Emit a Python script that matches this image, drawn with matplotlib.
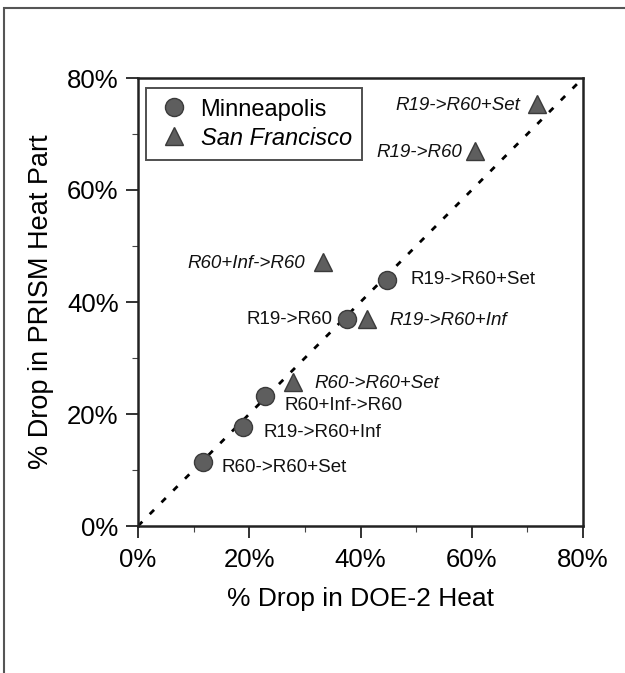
import matplotlib
matplotlib.use("Agg")
import matplotlib.pyplot as plt
from matplotlib.patches import Rectangle
from matplotlib.ticker import MultipleLocator, FuncFormatter

plt.rcParams['font.family'] = ['Liberation Sans', 'DejaVu Sans']

# Data (% drop)
mpls_labels = ["R60->R60+Set", "R19->R60+Inf", "R60+Inf->R60", "R19->R60", "R19->R60+Set"]
mpls_doe2 = [11.7, 18.9, 22.8, 37.6, 44.8]
mpls_prism = [11.4, 17.6, 23.3, 36.9, 44.0]

sf_labels = ["R60->R60+Set", "R19->R60+Inf", "R60+Inf->R60", "R19->R60", "R19->R60+Set"]
sf_doe2 = [27.9, 41.2, 33.3, 60.6, 71.7]
sf_prism = [25.7, 36.9, 47.2, 67.0, 75.4]

diag = [0, 80]

# label placement (offsets in points, alignment)
mpls_off = [(13, -3.6, 'left'), (14.4, -3.6, 'left'), (14.4, -7.2, 'left'), (-10.8, 0, 'right'), (16.5, 0, 'left')]
sf_off = [(15, -1, 'left'), (16, -1, 'left'), (-13, -1, 'right'), (-9.4, -1.5, 'right'), (-12, -1.5, 'right')]

fig = plt.figure(figsize=(6.25, 6.73), dpi=100)
# figure frame (top and left edges visible)
fig.patches.append(Rectangle((4/625, -0.1), 1.2, 1.1 - 8/673, transform=fig.transFigure,
                             fill=False, edgecolor='#555555', linewidth=1.5, zorder=0))

ax = fig.add_axes([138/625, 1 - 526/673, 445/625, 448/673])
ax.set_xlim(0, 80)
ax.set_ylim(0, 80)

ax.plot(diag, diag, color='black', linestyle=(0, (2.2, 3.8)), linewidth=2.0, zorder=1)

ax.plot(mpls_doe2, mpls_prism, linestyle='none', marker='o', markersize=13,
        markerfacecolor='#5e5e5e', markeredgecolor='#3a3a3a', markeredgewidth=1,
        label='Minneapolis', zorder=3)
ax.plot(sf_doe2, sf_prism, linestyle='none', marker='^', markersize=13.5,
        markerfacecolor='#5e5e5e', markeredgecolor='#3a3a3a', markeredgewidth=1,
        label='San Francisco', zorder=3)

for lab, x, y, (dx, dy, ha) in zip(mpls_labels, mpls_doe2, mpls_prism, mpls_off):
    ax.annotate(lab, (x, y), xytext=(dx, dy), textcoords='offset points',
                ha=ha, va='center', fontsize=13.5, color='#111111')
for lab, x, y, (dx, dy, ha) in zip(sf_labels, sf_doe2, sf_prism, sf_off):
    ax.annotate(lab, (x, y), xytext=(dx, dy), textcoords='offset points',
                ha=ha, va='center', fontsize=13.5, style='italic', color='#111111')

pct = FuncFormatter(lambda v, p: f"{v:.0f}%")
for axis in (ax.xaxis, ax.yaxis):
    axis.set_major_locator(MultipleLocator(20))
    axis.set_minor_locator(MultipleLocator(10))
    axis.set_major_formatter(pct)
ax.tick_params(which='major', direction='out', length=8.5, width=1.3, labelsize=18.5, color='#222222')
ax.tick_params(which='minor', direction='out', length=4, width=0.8, color='#444444')
ax.tick_params(axis='x', which='major', pad=7)
ax.tick_params(axis='y', which='major', pad=5.5)
for s in ax.spines.values():
    s.set_linewidth(1.8)
    s.set_color('#222222')

ax.set_xlabel('% Drop in DOE-2 Heat', fontsize=19, labelpad=11)
ax.set_ylabel('% Drop in PRISM Heat Part', fontsize=19.5, labelpad=9)

leg = ax.legend(loc='upper left', bbox_to_anchor=(8/445, 1 - 10/448), fontsize=17, frameon=True,
                fancybox=False, edgecolor='#222222', handlelength=1.5, handletextpad=0.36,
                borderpad=0.45, labelspacing=0.25, borderaxespad=0.0)
leg.get_frame().set_linewidth(1.4)
leg.get_texts()[1].set_style('italic')

fig.savefig('out.png', dpi=100)
